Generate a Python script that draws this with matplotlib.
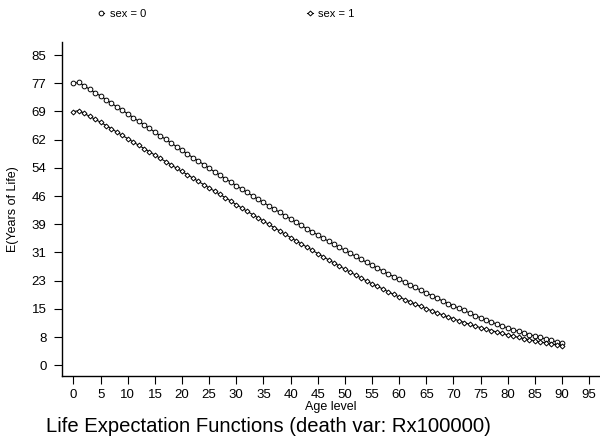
import numpy as np
import matplotlib
matplotlib.use('Agg')
import matplotlib.pyplot as plt

plt.rcParams['font.family'] = ['Liberation Sans', 'DejaVu Sans']

# age 0..90
ages = list(range(0, 91))

# sex = 0 (upper curve)
e_sex0 = [77.3, 77.5, 76.6, 75.6, 74.7, 73.8,
          72.8, 71.8, 70.8, 69.9, 68.9,
          67.9, 66.9, 65.9, 64.9, 63.9,
          62.9, 61.9, 60.9, 59.9, 58.9,
          57.9, 56.9, 56.0, 55.0, 54.0,
          53.0, 52.1, 51.1, 50.2, 49.2,
          48.3, 47.4, 46.4, 45.5, 44.6,
          43.7, 42.8, 41.9, 41.0, 40.1,
          39.2, 38.3, 37.4, 36.6, 35.7,
          34.8, 34.0, 33.1, 32.3, 31.5,
          30.7, 29.8, 29.0, 28.2, 27.4,
          26.6, 25.8, 25.0, 24.3, 23.5,
          22.8, 22.0, 21.3, 20.5, 19.8,
          19.1, 18.4, 17.6, 16.9, 16.3,
          15.6, 15.0, 14.3, 13.6, 13.0,
          12.4, 11.8, 11.3, 10.7, 10.2,
          9.7, 9.3, 8.8, 8.4, 8.0,
          7.6, 7.2, 6.8, 6.4, 6.1]

# sex = 1 (lower curve)
e_sex1 = [69.5, 69.8, 69.0, 68.2, 67.4, 66.6,
          65.7, 64.8, 63.9, 63.0, 62.1,
          61.2, 60.3, 59.4, 58.5, 57.6,
          56.7, 55.8, 54.9, 54.0, 53.1,
          52.2, 51.3, 50.4, 49.5, 48.6,
          47.7, 46.8, 45.9, 45.0, 44.0,
          43.1, 42.2, 41.3, 40.4, 39.5,
          38.6, 37.7, 36.8, 35.9, 35.0,
          34.1, 33.2, 32.4, 31.5, 30.6,
          29.7, 28.9, 28.0, 27.2, 26.3,
          25.5, 24.7, 23.9, 23.1, 22.3,
          21.6, 20.9, 20.1, 19.4, 18.7,
          18.0, 17.4, 16.7, 16.1, 15.5,
          14.9, 14.3, 13.8, 13.2, 12.7,
          12.2, 11.7, 11.2, 10.7, 10.3,
          9.9, 9.5, 9.1, 8.7, 8.3,
          8.0, 7.6, 7.3, 7.0, 6.7,
          6.4, 6.1, 5.8, 5.6, 5.3]

y_tick_labels = ['0', '8', '15', '23', '31', '39', '46', '54', '62', '69', '77', '85']
x_ticks = list(range(0, 100, 5))

fig = plt.figure(figsize=(6, 4.42), dpi=100)
ax = fig.add_axes([0.103, 0.149, 0.897, 0.756])

l0, = ax.plot(ages, e_sex0, color='black', lw=0.8, marker='o', ms=3.4,
              mfc='white', mec='black', mew=0.7, label='sex = 0')
l1, = ax.plot(ages, e_sex1, color='black', lw=0.8, marker='D', ms=2.5,
              mfc='white', mec='black', mew=0.7, label='sex = 1')

ax.set_xlim(-2.15, 97)
ax.set_ylim(-3.0, 88.6)
ax.set_yticks(np.linspace(0, 85, 12))
ax.set_yticklabels(y_tick_labels)
ax.set_xticks(x_ticks)

for s in ['top', 'right']:
    ax.spines[s].set_visible(False)
ax.spines['left'].set_linewidth(1.0)
ax.spines['bottom'].set_linewidth(1.0)
ax.tick_params(axis='both', length=6, width=0.8, labelsize=9.5)
ax.tick_params(axis='y', pad=5)
ax.tick_params(axis='x', pad=3)

ax.set_ylabel('E(Years of Life)', fontsize=9, labelpad=9)
ax.set_xlabel('Age level', fontsize=9, labelpad=0)
fig.text(0.447, 0.034, 'Life Expectation Functions (death var: Rx100000)',
         ha='center', va='center', fontsize=14.6)

fig.legend(handles=[l0, l1], loc='center left', bbox_to_anchor=(0.155, 0.968),
           ncol=2, frameon=False, fontsize=8, handlelength=0.5,
           handletextpad=0.5, columnspacing=14.5, borderpad=0)

fig.savefig('out.png', dpi=100)
